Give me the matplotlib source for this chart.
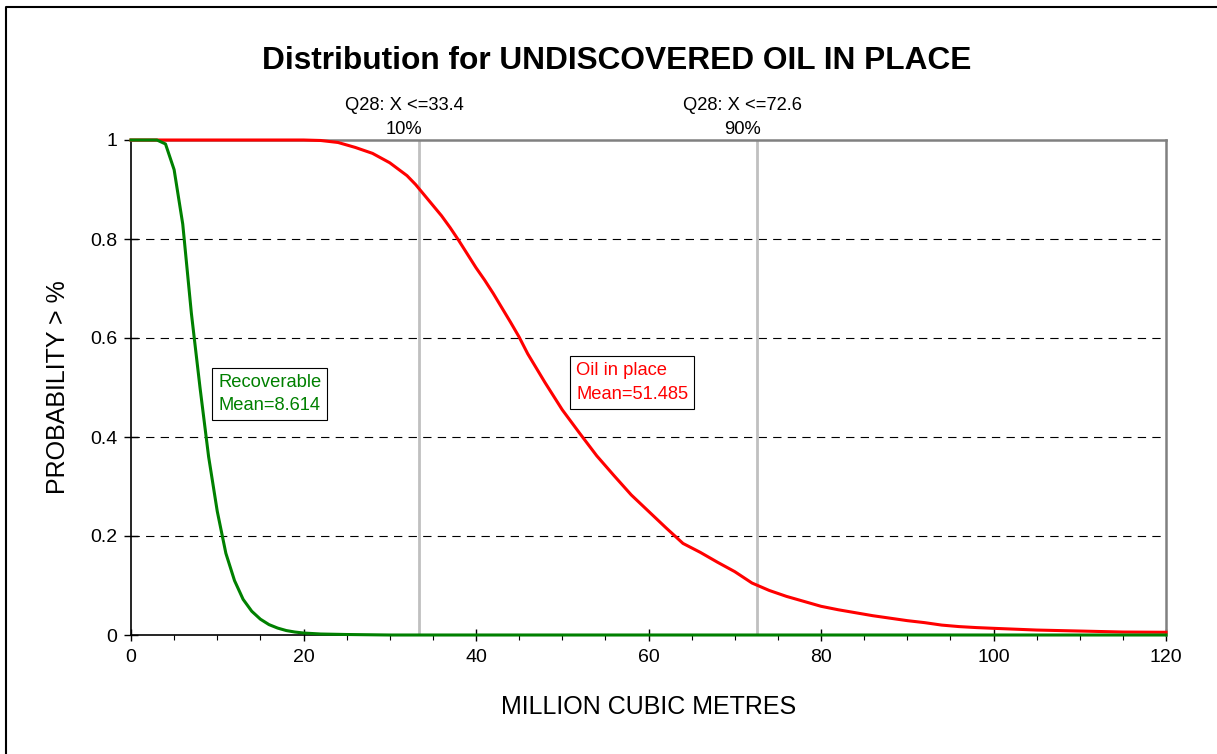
import matplotlib
matplotlib.use("Agg")
import matplotlib.pyplot as plt
from matplotlib.lines import Line2D
from matplotlib.ticker import MultipleLocator

plt.rcParams['font.family'] = ['Liberation Sans', 'DejaVu Sans']
plt.rcParams['lines.scale_dashes'] = False

# Exceedance probability curves (million cubic metres vs probability)
oil_x = [0, 5, 10, 15, 20, 22, 24, 26, 28, 30, 32, 33, 34, 35, 36, 37, 38, 40, 41,
         42, 44, 45, 46, 48, 50, 52, 54, 56, 58, 60, 62, 64, 66, 68, 70, 72, 74,
         76, 78, 80, 82, 84, 86, 88, 90, 92, 94, 96, 98, 100, 105, 110, 115, 120]
oil_p = [1.0, 1.0, 1.0, 1.0, 1.0, 0.999, 0.995, 0.985, 0.973, 0.954, 0.928, 0.91,
         0.889, 0.868, 0.847, 0.823, 0.797, 0.742, 0.717, 0.69, 0.632, 0.602, 0.568,
         0.51, 0.455, 0.408, 0.362, 0.322, 0.283, 0.25, 0.217, 0.185, 0.167, 0.147,
         0.128, 0.105, 0.09, 0.078, 0.068, 0.058, 0.051, 0.045, 0.039, 0.034, 0.029,
         0.025, 0.02, 0.017, 0.015, 0.0135, 0.010, 0.008, 0.006, 0.0055]

rec_x = [0, 1, 2, 3, 4, 5, 6, 7, 8, 9, 10, 11, 12, 13, 14, 15, 16, 17, 18, 19, 20,
         22, 25, 30, 40, 60, 80, 100, 120]
rec_p = [1.0, 1.0, 1.0, 1.0, 0.992, 0.94, 0.83, 0.65, 0.50, 0.36, 0.25, 0.165, 0.11,
         0.072, 0.048, 0.032, 0.021, 0.014, 0.009, 0.006, 0.004, 0.002, 0.001, 0.0,
         0.0, 0.0, 0.0, 0.0, 0.0]

quantiles = [33.4, 72.6]
quantile_pct = ["10%", "90%"]

W, H = 1217, 754
fig = plt.figure(figsize=(W / 100, H / 100), dpi=100)
ax = fig.add_axes([131 / W, 1 - 635 / H, (1166 - 131) / W, (635 - 140) / H])

ax.set_xlim(0, 120)
ax.set_ylim(0, 1)

# horizontal dashed grid
for yv in [0.2, 0.4, 0.6, 0.8]:
    ax.axhline(yv, color='black', lw=0.8, dashes=(6, 4.5), zorder=1)

# quantile markers
for q, pct in zip(quantiles, quantile_pct):
    ax.axvline(q, color='#c0c0c0', lw=2.0, zorder=2)
    ax.text(q - 1.7, 1.0 + 0.069, f"Q28: X <={q}", ha='center', va='center',
            fontsize=13.2, clip_on=False)
    ax.text(q - 1.7, 1.0 + 0.021, pct, ha='center', va='center',
            fontsize=13.2, clip_on=False)

ax.plot(oil_x, oil_p, color='#ff0000', lw=2.2, zorder=3, clip_on=False)
ax.plot(rec_x, rec_p, color='#008000', lw=2.2, zorder=4, clip_on=False)

# curve labels
box = dict(boxstyle='square,pad=0.32', fc='white', ec='black', lw=0.8)
ax.text(10.1, 0.528, "Recoverable\nMean=8.614", color='#008000', fontsize=13.2,
        ha='left', va='top', linespacing=1.5, zorder=5, bbox=box)
ax.text(51.6, 0.551, "Oil in place\nMean=51.485", color='#ff0000', fontsize=13.2,
        ha='left', va='top', linespacing=1.5, zorder=5, bbox=box)

# spines
for side in ['top', 'right']:
    ax.spines[side].set_color('#808080')
    ax.spines[side].set_linewidth(1.8)
for side in ['left', 'bottom']:
    ax.spines[side].set_color('black')
    ax.spines[side].set_linewidth(1.2)

ax.xaxis.set_minor_locator(MultipleLocator(5))
ax.set_yticks([0, 0.2, 0.4, 0.6, 0.8, 1.0])
ax.set_yticklabels(['0', '0.2', '0.4', '0.6', '0.8', '1'])
ax.set_xticks([0, 20, 40, 60, 80, 100, 120])
ax.set_xticklabels(['0', '20', '40', '60', '80', '100', '120'])
ax.tick_params(axis='x', which='major', direction='inout', length=8, width=1.0,
               labelsize=14, pad=6)
ax.tick_params(axis='x', which='minor', direction='out', length=3.5, width=0.8)
ax.tick_params(axis='y', which='major', direction='inout', length=10, width=1.0,
               labelsize=14, pad=5)

ax.set_xlabel("MILLION CUBIC METRES", fontsize=18, labelpad=21)
ax.set_ylabel("PROBABILITY > %", fontsize=18, labelpad=14)

fig.text(617 / W, 1 - 61 / H, "Distribution for UNDISCOVERED OIL IN PLACE",
         ha='center', va='center', fontsize=22.8, fontweight='bold')

# outer frame
fig.add_artist(Line2D([6 / W, 6 / W, 1.0], [0.0, 1 - 7 / H, 1 - 7 / H],
                      transform=fig.transFigure, color='black', lw=1.5))

fig.savefig("out.png", dpi=100)
